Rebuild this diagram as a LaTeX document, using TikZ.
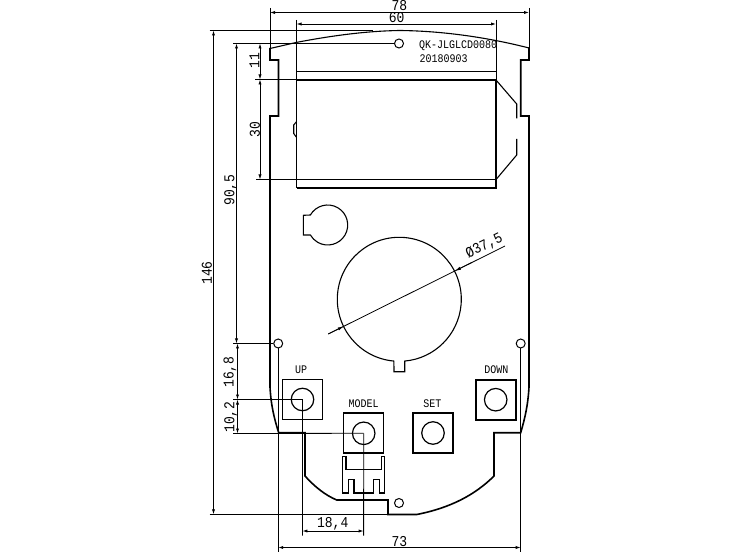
\documentclass[tikz,border=0pt]{standalone}
\usepackage{fontspec}
\setmainfont{Liberation Mono}
\usetikzlibrary{arrows.meta}
\newcommand{\tallt}[1]{\scalebox{1}[1.16]{#1}}
\tikzset{
  thin line/.style={line width=0.8pt,draw=black},
  thick line/.style={line width=1.6pt,draw=black,line cap=butt,line join=miter},
  mid line/.style={line width=1.1pt,draw=black},
  dim/.style={line width=0.8pt,{Latex[length=5pt,width=3.2pt]}-{Latex[length=5pt,width=3.2pt]}},
  dimout/.style={line width=0.8pt},
  lab/.style={inner sep=0pt,font=\fontsize{13}{13}\selectfont},
  small/.style={inner sep=0pt,font=\fontsize{10}{10}\selectfont},
  hole/.style={circle,draw=black,line width=1pt,minimum size=9pt,inner sep=0pt},
  pin/.style={circle,draw=black,line width=1.2pt,minimum size=22.5pt,inner sep=0pt},
  key/.style={draw=black,line width=1.5pt,minimum size=40pt,inner sep=0pt}
}
\begin{document}
\begin{tikzpicture}[x=1pt,y=-1pt]
\useasboundingbox[fill=white] (0,0) rectangle (731,553);
% body outline
\draw[mid line] (270,48.5) -- (296,42.5) .. controls (330,36) and (365,31) .. (400,30.5)
  .. controls (445,31) and (490,38) .. (529,48);
\draw[thick line] (529,47.5) -- (529,60) -- (520.7,60) -- (520.7,116) -- (529,116)
  -- (529,387) .. controls (528,405) and (525,418) .. (520.7,432.7) -- (494,432.7) -- (494,476)
  .. controls (475,495) and (450,508) .. (416.7,514.5) -- (388,514.5) -- (388,500) -- (336.7,500)
  .. controls (325,495) and (315,487) .. (305,476) -- (305,432.7) -- (278.7,432.7)
  .. controls (274,418) and (271,405) .. (270,387) -- (270,116) -- (278.5,116) -- (278.5,60) -- (270,60) -- (270,48);
% holes
\node[hole] (htop) at (399,43.5) {};
\node[hole] (hl) at (278.2,343.5) {};
\node[hole] (hr) at (520.7,343.5) {};
\node[hole] (hb) at (399,503) {};
% LCD
\draw[thin line] (296.5,71.5) -- (496,71.5);
\draw[thin line] (296.5,179.5) -- (496,179.5);
\draw[thick line] (296.5,80) -- (496,80);
\draw[thick line] (296.5,188) -- (496,188) -- (496,80);
\draw[mid line] (296.5,121.7) -- (293.7,125) -- (293.7,133.5) -- (296.5,137.3);
\draw[mid line] (496,80) -- (516.7,104) -- (516.7,118.5);
\draw[mid line] (516.7,139) -- (516.7,155) -- (496.5,179);
% batteries
\draw[mid line] (327.7,225) ++(210:20) arc[start angle=210,end angle=510,radius=20] -- (303.3,235) -- (303.3,215.3) -- cycle;
\coordinate (cc) at (399.3,299.3);
\draw[mid line] (cc) ++(95:62) arc[start angle=95,end angle=445,radius=62] -- (404.7,371.7) -- (394,371.7) -- cycle;
% keys
\node[key] (kup) at (302.5,399.7) {};
\node[key] (kmodel) at (363.7,433) {};
\node[key] (kset) at (433.2,433) {};
\node[key] (kdown) at (496,400) {};
\node[pin] (pup) at (302.5,399.5) {};
\node[pin] (pmodel) at (363.7,433.3) {};
\node[pin] (pset) at (433,433) {};
\node[pin] (pdown) at (495.7,399.7) {};
% connector
\draw[mid line] (342.8,456.7) -- (342.8,493) -- (348.5,493) -- (348.5,479.5) -- (354,479.5) -- (354,493)
  -- (373.7,493) -- (373.7,479.5) -- (379.3,479.5) -- (379.3,493) -- (384.3,493) -- (384.3,456.7)
  -- (381.7,456.7) -- (381.7,469.3) -- (346,469.3) -- (346,456.7) -- cycle;
% extension lines
\coordinate (t78l) at (270,8);
\coordinate (t78r) at (529,8);
\coordinate (t60l) at (296.5,20);
\coordinate (t60r) at (496,20);
\draw[dimout] (t78l) -- (270,48.5);
\draw[dimout] (t78r) -- (529,48);
\draw[dimout] (t60l) -- (296.5,188);
\draw[dimout] (t60r) -- (496,188);
\draw[dimout] (209.5,30.5) -- (373,30.5);
\draw[dimout] (209.5,514.3) -- (388,514.3);
\draw[dimout] (233,43.5) -- (htop.west);
\draw[dimout] (255,79.5) -- (296.5,79.5);
\draw[dimout] (256,179.5) -- (296.5,179.5);
\draw[dimout] (233,343.5) -- (hl.west);
\draw[dimout] (233,399.5) -- (pup.center);
\draw[dimout] (233,433.5) -- (pmodel.center);
\draw[dimout] (hl.south) -- (278.2,551.7);
\draw[dimout] (hr.south) -- (520.7,551.7);
\draw[dimout] (pup.center) -- (302.4,535.7);
\draw[dimout] (pmodel.center) -- (363.6,535.7);
% dimensions
\draw[dim] (270,12.5) -- (529,12.5);
\draw[dim] (296.5,24) -- (496,24);
\draw[dim] (213.5,30.5) -- (213.5,514.3);
\draw[dim] (236.5,43.5) -- (236.5,343.5);
\draw[dim] (260,43.5) -- (260,79.5);
\draw[dim] (260,79.5) -- (260,179.5);
\draw[dim] (237.5,343.5) -- (237.5,399.5);
\draw[dim] (237.5,399.5) -- (237.5,433.5);
\draw[dim] (302.4,531) -- (363.6,531);
\draw[dim] (278.2,547.5) -- (520.7,547.5);
\draw[line width=0.8pt] (328.3,334) -- (505,246);
\draw[-{Latex[length=6pt,width=3.2pt]},line width=0.8pt] (328.3,334) -- (343.8,326.3);
\draw[-{Latex[length=6pt,width=3.2pt]},line width=0.8pt] (472,262.4) -- (454.8,271);
% labels
\node[lab] (l78) at (399.3,6) {\tallt{78}};
\node[lab] (l60) at (396.7,18) {\tallt{60}};
\node[lab,rotate=90] (l11) at (254.3,61) {\tallt{11}};
\node[lab,rotate=90] (l30) at (255,129.3) {\tallt{30}};
\node[lab,rotate=90] (l905) at (230.7,190) {\tallt{90,5}};
\node[lab,rotate=90] (l146) at (207,273) {\tallt{146}};
\node[lab,rotate=90] (l168) at (230,372) {\tallt{16,8}};
\node[lab,rotate=90] (l102) at (230.7,417) {\tallt{10,2}};
\node[lab] (l184) at (332.7,524) {\tallt{18,4}};
\node[lab] (l73) at (399.3,541.5) {\tallt{73}};
\node[lab,rotate=26.5] (ldia) at (484.5,246) {\tallt{Ø37,5}};
\node[small,anchor=west] (code) at (419,46) {\tallt{QK-JLGLCD0080}};
\node[small,anchor=west] (date) at (419.5,58.5) {\tallt{20180903}};
\node[small] (tup) at (301,370) {\tallt{UP}};
\node[small] (tmodel) at (363.7,403.3) {\tallt{MODEL}};
\node[small] (tset) at (432.3,404) {\tallt{SET}};
\node[small] (tdown) at (496.3,370) {\tallt{DOWN}};
\end{tikzpicture}
\end{document}
